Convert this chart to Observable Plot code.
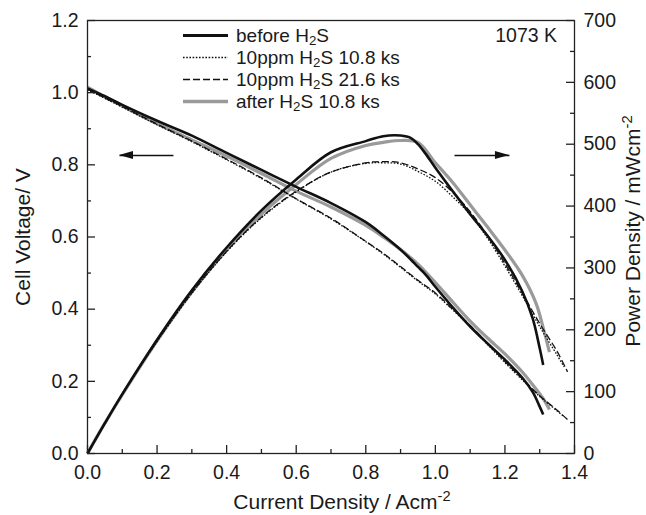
<!DOCTYPE html>
<html><head><meta charset="utf-8">
<script src="https://cdn.jsdelivr.net/npm/d3@7"></script>
<script src="https://cdn.jsdelivr.net/npm/@observablehq/plot@0.6"></script>
<style>body{margin:0;background:#fff}</style>
</head><body><div id="chart"></div>
<script>
// ---- data ----
// before H2S
const jBefore = [0, 0.05, 0.1, 0.2, 0.3, 0.4, 0.5, 0.6, 0.7, 0.8, 0.85, 0.9, 0.93, 0.95, 0.97, 1.0, 1.05, 1.1, 1.15, 1.2, 1.25, 1.28, 1.3, 1.31];
const vBefore = [1.012, 0.99, 0.966, 0.922, 0.881, 0.833, 0.786, 0.739, 0.694, 0.641, 0.605, 0.565, 0.537, 0.517, 0.498, 0.462, 0.405, 0.352, 0.305, 0.26, 0.21, 0.17, 0.13, 0.108];
const pBefore = [0, 49, 96, 184, 264, 333, 393, 443, 487, 505, 513, 514, 510, 500, 486, 462, 424, 387, 352, 313, 262, 218, 170, 143];
// 10 ppm H2S 10.8 ks
const j108 = [0, 0.05, 0.1, 0.2, 0.3, 0.4, 0.5, 0.6, 0.7, 0.8, 0.85, 0.9, 0.95, 1.0, 1.05, 1.1, 1.15, 1.2, 1.25, 1.3, 1.35, 1.37];
const v108 = [1.008, 0.984, 0.96, 0.911, 0.864, 0.814, 0.762, 0.705, 0.65, 0.587, 0.553, 0.516, 0.478, 0.442, 0.398, 0.352, 0.302, 0.252, 0.204, 0.158, 0.118, 0.102];
const p108 = [0, 49, 96, 181, 259, 326, 381, 423, 455, 469, 470, 468, 456, 440, 415, 386, 348, 303, 255, 205, 159, 140];
// 10 ppm H2S 21.6 ks
const j216 = [0, 0.05, 0.1, 0.2, 0.3, 0.4, 0.5, 0.6, 0.7, 0.8, 0.85, 0.9, 0.95, 1.0, 1.05, 1.1, 1.15, 1.2, 1.25, 1.3, 1.35, 1.38];
const v216 = [1.01, 0.985, 0.962, 0.913, 0.866, 0.816, 0.764, 0.706, 0.652, 0.588, 0.555, 0.518, 0.48, 0.445, 0.4, 0.355, 0.305, 0.255, 0.207, 0.16, 0.12, 0.094];
const p216 = [0, 49, 96, 182, 260, 327, 382, 424, 455, 470, 472, 470, 460, 446, 422, 391, 352, 307, 259, 210, 165, 132];
// after H2S 10.8 ks
const jAfter = [0, 0.05, 0.1, 0.2, 0.3, 0.4, 0.5, 0.6, 0.7, 0.8, 0.85, 0.9, 0.95, 1.0, 1.05, 1.1, 1.15, 1.2, 1.25, 1.29, 1.31, 1.328];
const vAfter = [1.015, 0.989, 0.963, 0.914, 0.869, 0.824, 0.776, 0.727, 0.683, 0.632, 0.6, 0.565, 0.525, 0.474, 0.42, 0.367, 0.32, 0.276, 0.226, 0.178, 0.152, 0.122];
const pAfter = [0, 49, 95, 182, 261, 329, 387, 435, 477, 498, 503, 506, 503, 470, 438, 402, 366, 329, 288, 242, 203, 164];

const seriesNames = ["before H2S", "10ppm H2S 10.8 ks", "10ppm H2S 21.6 ks", "after H2S 10.8 ks"];
const xTicks = [0, 0.2, 0.4, 0.6, 0.8, 1.0, 1.2, 1.4];
const xMinor = [0.1, 0.3, 0.5, 0.7, 0.9, 1.1, 1.3];
const vTicks = [0, 0.2, 0.4, 0.6, 0.8, 1.0, 1.2];
const vMinor = [0.1, 0.3, 0.5, 0.7, 0.9, 1.1];
const pTicks = [0, 100, 200, 300, 400, 500, 600, 700];
const pMinor = [50, 150, 250, 350, 450, 550, 650];
const arrowsJ = [[0.247, 0.092], [1.055, 1.213]]; // tail, tip (A cm-2)
const arrowV = 0.826;
const tempLabel = "1073 K";

// ---- build ----
const V_MAX = 1.2, P_MAX = 700;
const toV = p => p * V_MAX / P_MAX;
const sets = [
  {name: seriesNames[0], j: jBefore, v: vBefore, p: pBefore, stroke: "#111", width: 2.6, dash: null},
  {name: seriesNames[1], j: j108, v: v108, p: p108, stroke: "#111", width: 1.3, dash: "1.6,1.6"},
  {name: seriesNames[2], j: j216, v: v216, p: p216, stroke: "#111", width: 1.3, dash: "7,3"},
  {name: seriesNames[3], j: jAfter, v: vAfter, p: pAfter, stroke: "#9a9a9a", width: 3.2, dash: null}
];
function rows(s) {
  const out = [];
  s.j.forEach((j, i) => out.push({key: "v", j, y: s.v[i]}));
  s.j.forEach((j, i) => out.push({key: "p", j, y: toV(s.p[i])}));
  return out;
}
const drawOrder = [3, 2, 1, 0];
const lineMarks = drawOrder.map(k => {
  const s = sets[k];
  return Plot.line(rows(s), {x: "j", y: "y", z: "key", stroke: s.stroke, strokeWidth: s.width,
    strokeDasharray: s.dash, curve: "catmull-rom", strokeLinecap: "butt"});
});

const W = 646, H = 515, ML = 87, MR = 72, MT = 20, MB = 62;
const PW = W - ML - MR, PH = H - MT - MB;
const axisColor = "#222";

const chart = Plot.plot({
  width: W, height: H,
  marginLeft: ML, marginRight: MR, marginTop: MT, marginBottom: MB,
  style: {fontFamily: "'Liberation Sans', Arial, sans-serif", fontSize: "19.5px", color: "#1a1a1a", background: "#fff"},
  x: {domain: [0, 1.4]},
  y: {domain: [0, V_MAX]},
  marks: [
    ...lineMarks,
    Plot.link(arrowsJ, {x1: d => d[0], x2: d => d[1], y1: arrowV, y2: arrowV, stroke: "#111", strokeWidth: 1.5}),
    Plot.tickX(xTicks, {x: d => d, insetTop: PH - 8, stroke: axisColor, strokeWidth: 1.3}),
    Plot.tickX(xMinor, {x: d => d, insetTop: PH - 4, stroke: axisColor, strokeWidth: 1.3}),
    Plot.tickY(vTicks, {y: d => d, insetRight: PW - 8, stroke: axisColor, strokeWidth: 1.3}),
    Plot.tickY(vMinor, {y: d => d, insetRight: PW - 4, stroke: axisColor, strokeWidth: 1.3}),
    Plot.tickY(pTicks.map(toV), {y: d => d, insetLeft: PW - 8, stroke: axisColor, strokeWidth: 1.3}),
    Plot.tickY(pMinor.map(toV), {y: d => d, insetLeft: PW - 4, stroke: axisColor, strokeWidth: 1.3}),
    Plot.axisX(xTicks, {tickSize: 0, tickPadding: 12, tickFormat: d => d.toFixed(1), label: null}),
    Plot.axisY(vTicks, {anchor: "left", tickSize: 0, tickPadding: 9, tickFormat: d => d.toFixed(1), label: null}),
    Plot.axisY(pTicks.map(toV), {anchor: "right", tickSize: 0, tickPadding: 9, tickFormat: d => String(Math.round(d * P_MAX / V_MAX)), label: null}),
    Plot.frame({stroke: axisColor, strokeWidth: 1.3})
  ]
});
document.getElementById("chart").appendChild(chart);

const svg = d3.select(chart);
const sx = chart.scale("x"), sy = chart.scale("y");
// arrow heads
arrowsJ.forEach(([a, b]) => {
  const tx = sx.apply(b), ty = sy.apply(arrowV);
  const dir = b < a ? 1 : -1;
  svg.append("path")
    .attr("d", `M${tx},${ty} L${tx + dir * 14},${ty - 4} L${tx + dir * 14},${ty + 4} Z`)
    .attr("fill", "#111");
});

function sub2(sel, parts) {
  parts.forEach(([t, kind]) => {
    const ts = sel.append("tspan").text(t);
    if (kind === "sub") ts.attr("font-size", "0.7em").attr("dy", "0.2em");
    if (kind === "sup") ts.attr("font-size", "0.7em").attr("dy", "-0.55em");
    if (kind === "after-sub") ts.attr("dy", "-0.14em");
  });
}
const font = "'Liberation Sans', Arial, sans-serif";
// legend
const legParts = [
  [["before H", null], ["2", "sub"], ["S", "after-sub"]],
  [["10ppm H", null], ["2", "sub"], ["S 10.8 ks", "after-sub"]],
  [["10ppm H", null], ["2", "sub"], ["S 21.6 ks", "after-sub"]],
  [["after H", null], ["2", "sub"], ["S 10.8 ks", "after-sub"]]
];
const legY = [35.5, 57.5, 79.5, 101.5];
sets.forEach((s, i) => {
  const y = legY[i];
  svg.append("line").attr("x1", 183).attr("x2", 228).attr("y1", y).attr("y2", y)
    .attr("stroke", s.stroke).attr("stroke-width", i === 0 ? 3 : i === 3 ? 3.6 : 1.4)
    .attr("stroke-dasharray", s.dash);
  const t = svg.append("text").attr("x", 236).attr("y", y + 6.5).attr("text-anchor", "start")
    .attr("font-family", font).attr("font-size", 19).attr("fill", "#1a1a1a");
  sub2(t, legParts[i]);
});
svg.append("text").attr("x", 557).attr("y", 42).attr("text-anchor", "end")
  .attr("font-family", font).attr("font-size", 19.5).attr("fill", "#1a1a1a").text(tempLabel);
// axis titles
const xt = svg.append("text").attr("x", 342).attr("y", 509).attr("text-anchor", "middle")
  .attr("font-family", font).attr("font-size", 21).attr("fill", "#1a1a1a");
sub2(xt, [["Current Density / Acm", null], ["-2", "sup"]]);
svg.append("text").attr("transform", "translate(30,237) rotate(-90)").attr("text-anchor", "middle")
  .attr("font-family", font).attr("font-size", 21).attr("fill", "#1a1a1a").text("Cell Voltage/ V");
const yt2 = svg.append("text").attr("transform", "translate(640,231) rotate(-90)").attr("text-anchor", "middle")
  .attr("font-family", font).attr("font-size", 21).attr("fill", "#1a1a1a");
sub2(yt2, [["Power Density / mWcm", null], ["-2", "sup"]]);
</script>
</body></html>
